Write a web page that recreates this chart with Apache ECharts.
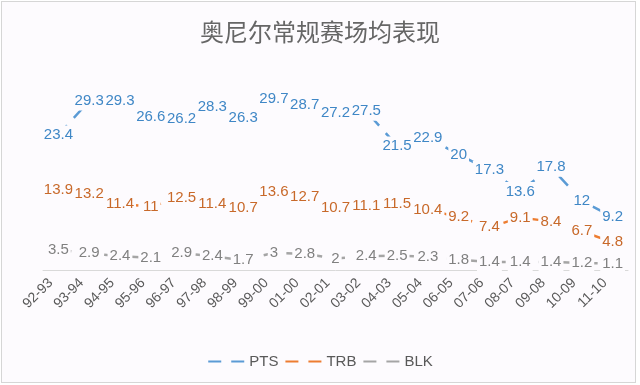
<!DOCTYPE html>
<html><head><meta charset="utf-8">
<script src="https://cdn.jsdelivr.net/npm/echarts@6/dist/echarts.min.js"></script>
<style>
html,body{margin:0;padding:0;background:#fff;}
#frame{position:absolute;left:1px;top:1px;width:633px;height:380px;border:1px solid #d6d6d6;background:#fdfbfe;}
#chart{position:absolute;left:0;top:0;width:640px;height:385px;}
</style></head>
<body><div id="frame"></div><div id="chart"></div>
<script>
const categories = ['92-93','93-94','94-95','95-96','96-97','97-98','98-99','99-00','01-00','02-01','03-02','04-03','05-04','06-05','07-06','08-07','09-08','10-09','11-10'];
const pts = [23.4,29.3,29.3,26.6,26.2,28.3,26.3,29.7,28.7,27.2,27.5,21.5,22.9,20,17.3,13.6,17.8,12,9.2];
const trb = [13.9,13.2,11.4,11,12.5,11.4,10.7,13.6,12.7,10.7,11.1,11.5,10.4,9.2,7.4,9.1,8.4,6.7,4.8];
const blk = [3.5,2.9,2.4,2.1,2.9,2.4,1.7,3,2.8,2,2.4,2.5,2.3,1.8,1.4,1.4,1.4,1.2,1.1];
const titleText = '奥尼尔常规赛场均表现';

const chart = echarts.init(document.getElementById('chart'), null, {renderer:'canvas'});
function mk(name, data, lineColor, labelColor){
  return {
    name, type:'line', data,
    symbol:'circle', symbolSize:1,
    itemStyle:{color:lineColor},
    lineStyle:{color:lineColor, width:2.5, type:[13,10]},
    label:{show:true, position:'inside', color:labelColor, fontSize:15,
      fontFamily:'Liberation Sans', backgroundColor:'#fdfbfe', padding:[2,2]},
    emphasis:{disabled:true},
    animation:false
  };
}
chart.setOption({
  animation:false,
  backgroundColor:'transparent',
  title:{text:titleText, left:'center', top:15,
    textStyle:{fontFamily:'Noto Sans CJK SC', fontSize:24, fontWeight:'normal', color:'#666666'}},
  legend:{bottom:11, left:'center', itemWidth:36, itemHeight:14, itemGap:6,
    itemStyle:{opacity:0},
    textStyle:{fontFamily:'Liberation Sans', fontSize:15, color:'#595959'},
    data:['PTS','TRB','BLK']},
  grid:{left:43, right:12, top:68, bottom:115},
  xAxis:{type:'category', data:categories, boundaryGap:true,
    axisLine:{lineStyle:{color:'#d9d9d9', width:1}},
    axisTick:{show:false},
    axisLabel:{rotate:45, interval:0, margin:13, fontSize:14, fontFamily:'Liberation Sans',
      color:'#595959', verticalAlign:'bottom', formatter:v=>v+' '}},
  yAxis:{type:'value', min:0, max:35, show:false, splitLine:{show:false}},
  series:[
    mk('PTS', pts, '#5b9bd5', '#3f87c6'),
    mk('TRB', trb, '#ed7d31', '#c8692a'),
    mk('BLK', blk, '#a5a5a5', '#808080')
  ]
});
</script></body></html>
